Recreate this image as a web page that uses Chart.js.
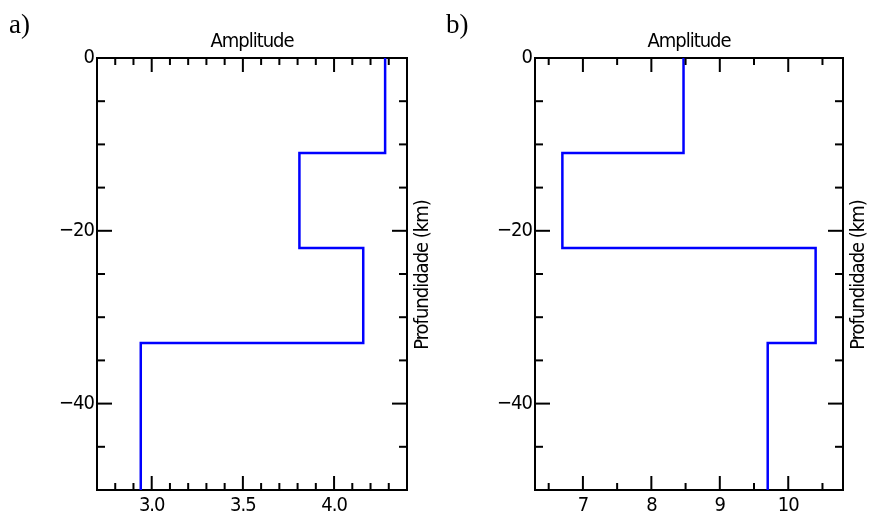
<!DOCTYPE html>
<html>
<head>
<meta charset="utf-8">
<script src="https://cdn.jsdelivr.net/npm/chart.js@4.4.1/dist/chart.umd.min.js"></script>
<style>
  body { margin: 0; background: #fff; }
  #wrap { position: relative; width: 873px; height: 520px; }
  canvas { position: absolute; top: 0; }
  .tag { position: absolute; top: 9px; font-family: "Liberation Serif", "DejaVu Serif", serif; font-size: 27px; color: #000; }
</style>
</head>
<body>
<div id="wrap">
  <canvas id="chartA" width="436" height="520" style="left:0"></canvas>
  <canvas id="chartB" width="437" height="520" style="left:436px"></canvas>
  <div class="tag" style="left:9px">a)</div>
  <div class="tag" style="left:446px">b)</div>
</div>
<script>
// camadas (profundidade do topo de cada camada, km)
const layerTops = [0, -11, -22, -33];
const baseDepth = -50;

// amplitude de cada camada
const ampA = [4.28, 3.81, 4.16, 2.94];
const ampB = [8.47, 6.70, 10.40, 9.70];

// eixos
const depthLabels = [0, -20, -40];
const depthMinor = [-5, -10, -15, -25, -30, -35, -45];
const xLabelsA = [3.0, 3.5, 4.0];
const xMinorA = [2.8, 2.9, 3.1, 3.2, 3.3, 3.4, 3.6, 3.7, 3.8, 3.9, 4.1, 4.2, 4.3];
const xLabelsB = [7, 8, 9, 10];
const xMinorB = [6.5, 7.5, 8.5, 9.5, 10.5];

const axisFont = { family: '"Liberation Sans Narrow", "DejaVu Sans Condensed", "Roboto Condensed", sans-serif', size: 20 };

// perfil em degraus a partir das camadas
function profile(values) {
    const pts = [];
    values.forEach((v, i) => {
        const bottom = i + 1 < layerTops.length ? layerTops[i + 1] : baseDepth;
        pts.push({ x: v, y: layerTops[i] });
        pts.push({ x: v, y: bottom });
    });
    return pts;
}

// letras mais juntas, como no original
const tightText = {
    id: 'tightText',
    beforeDraw(chart) { chart.ctx.letterSpacing = '-1px'; }
};

// marcas para dentro, nos quatro lados
const innerTicks = {
    id: 'innerTicks',
    afterDraw(chart, args, opts) {
        const { ctx, chartArea: a, scales } = chart;
        ctx.save();
        ctx.strokeStyle = '#000';
        ctx.lineWidth = 2;
        const line = (x1, y1, x2, y2) => { ctx.beginPath(); ctx.moveTo(x1, y1); ctx.lineTo(x2, y2); ctx.stroke(); };
        opts.xMajor.forEach(v => {
            const px = scales.x.getPixelForValue(v);
            line(px, a.bottom, px, a.bottom - 14);
            line(px, a.top, px, a.top + 14);
        });
        opts.xMinor.forEach(v => {
            const px = scales.x.getPixelForValue(v);
            line(px, a.bottom, px, a.bottom - 7);
            line(px, a.top, px, a.top + 7);
        });
        depthLabels.forEach(v => {
            const py = scales.y.getPixelForValue(v);
            line(a.left, py, a.left + 15, py);
            line(a.right, py, a.right - 15, py);
        });
        depthMinor.forEach(v => {
            const py = scales.y.getPixelForValue(v);
            line(a.left, py, a.left + 8, py);
            line(a.right, py, a.right - 8, py);
        });
        // título do eixo direito
        ctx.translate(a.right + 16, (a.top + a.bottom) / 2 + 1);
        ctx.rotate(-Math.PI / 2);
        ctx.fillStyle = '#000';
        ctx.letterSpacing = '-1px';
        ctx.font = axisFont.size + 'px ' + axisFont.family;
        ctx.textAlign = 'center';
        ctx.textBaseline = 'middle';
        ctx.fillText('Profundidade (km)', 0, 0);
        ctx.restore();
    }
};

function makeChart(id, values, xMin, xMax, xLabels, xMinor, decimals, leftW, rightW) {
    const border = { display: true, color: '#000', width: 2 };
    return new Chart(document.getElementById(id), {
        type: 'line',
        data: {
            datasets: [{
                data: profile(values),
                borderColor: '#0000ff',
                borderWidth: 2.5,
                pointRadius: 0,
                fill: false,
                tension: 0
            }]
        },
        options: {
            responsive: false,
            animation: false,
            layout: { padding: 0 },
            plugins: {
                legend: { display: false },
                tooltip: { enabled: false },
                innerTicks: { xMajor: xLabels, xMinor: xMinor }
            },
            scales: {
                x: {
                    type: 'linear', position: 'bottom', min: xMin, max: xMax,
                    grid: { display: false, drawTicks: false },
                    border: border,
                    afterBuildTicks: s => { s.ticks = xLabels.map(v => ({ value: v })); },
                    afterFit: s => { s.height = 30; },
                    ticks: { color: '#000', font: axisFont, padding: 4, maxRotation: 0,
                             callback: v => v.toFixed(decimals) }
                },
                x2: {
                    type: 'linear', position: 'top', min: xMin, max: xMax,
                    grid: { display: false, drawTicks: false },
                    border: border,
                    ticks: { display: false },
                    afterFit: s => { s.height = 58; },
                    title: { display: true, text: 'Amplitude', color: '#000', font: axisFont, padding: { top: 30, bottom: 0 } }
                },
                y: {
                    type: 'linear', position: 'left', min: baseDepth, max: 0,
                    grid: { display: false, drawTicks: false },
                    border: border,
                    afterBuildTicks: s => { s.ticks = depthLabels.map(v => ({ value: v })); },
                    afterFit: s => { s.width = leftW; },
                    ticks: { color: '#000', font: axisFont, padding: 3,
                             callback: v => String(v).replace('-', '\u2212') }
                },
                y2: {
                    type: 'linear', position: 'right', min: baseDepth, max: 0,
                    grid: { display: false, drawTicks: false },
                    border: border,
                    ticks: { display: false },
                    afterFit: s => { s.width = rightW; }
                }
            }
        },
        plugins: [tightText, innerTicks]
    });
}

makeChart('chartA', ampA, 2.7, 4.4, xLabelsA, xMinorA, 1, 97, 29);
makeChart('chartB', ampB, 6.3, 10.8, xLabelsB, xMinorB, 0, 99, 30);
</script>
</body>
</html>
